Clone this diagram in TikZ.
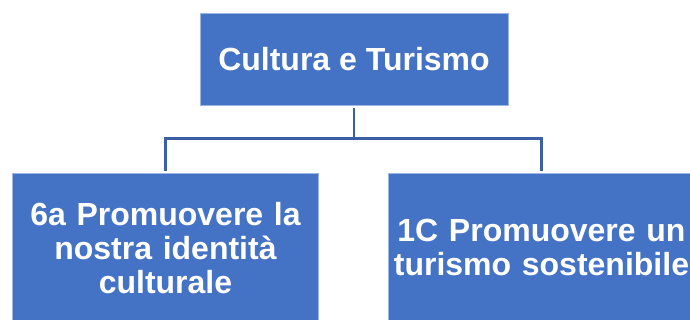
\documentclass[tikz,border=0pt]{standalone}
\usepackage{fontspec}
\setmainfont{Liberation Sans}
\usetikzlibrary{positioning}

\definecolor{boxblue}{HTML}{4472C4}
\definecolor{lineblue}{HTML}{3A5FA5}
\definecolor{edgeblue}{HTML}{9DB6E3}

\begin{document}
\begin{tikzpicture}[
            node distance=51pt,
            block/.style={rectangle, draw=edgeblue, line width=0.6pt, fill=boxblue, text=white, font=\bfseries\fontsize{24}{25.5}\selectfont, align=center, inner sep=0pt},
            head/.style={block, minimum width=231pt, minimum height=69pt},
            leaf/.style={block, minimum width=230pt, minimum height=111pt, text width=222pt},
            link/.style={draw=lineblue, line width=2.2pt}
        ]
        \useasboundingbox (0,0) rectangle (517.5pt,240pt);
        \begin{scope}
        \clip (0,0) rectangle (517.5pt,240pt);
        % Define the chart boxes
        \node[head] (theme) at (265.5pt,195.75pt) {Cultura e Turismo};
        \node[leaf, below=51pt of theme, xshift=-141.4pt] (identity) {6a Promuovere la\\nostra identità\\culturale};
        \node[leaf, below=51pt of theme, xshift=140.6pt] (tourism) {1C Promuovere un\\turismo sostenibile};

        % Draw the branches
        \draw[link] ([yshift=-2pt]theme.south) -- ++(0,-23pt) -| ([yshift=2pt]identity.north);
        \draw[link] ([yshift=-2pt]theme.south) -- ++(0,-23pt) -| ([yshift=2pt]tourism.north);
        \end{scope}
    \end{tikzpicture}
\end{document}
